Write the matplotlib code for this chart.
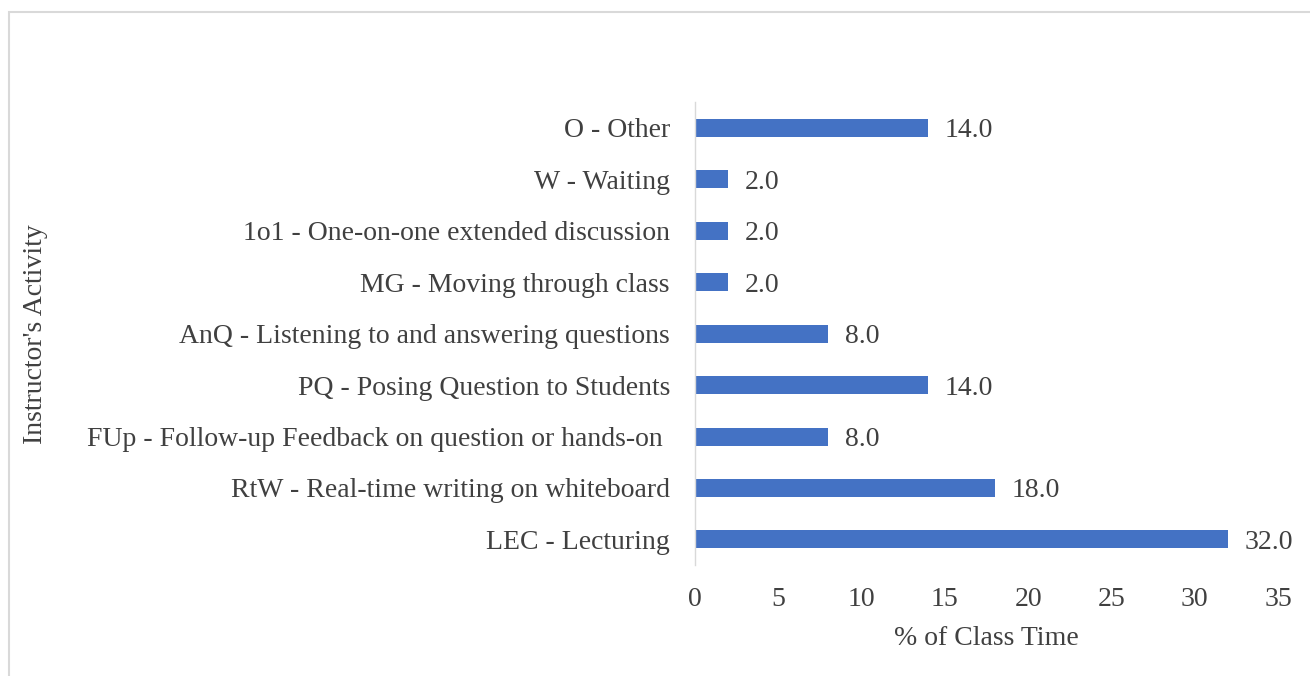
import matplotlib.pyplot as plt
from matplotlib.patches import Rectangle

activities = [
    "LEC - Lecturing",
    "RtW - Real-time writing on whiteboard",
    "FUp - Follow-up Feedback on question or hands-on ",
    "PQ - Posing Question to Students",
    "AnQ - Listening to and answering questions",
    "MG - Moving through class",
    "1o1 - One-on-one extended discussion",
    "W - Waiting",
    "O - Other",
]
pct_time = [32.0, 18.0, 8.0, 14.0, 8.0, 2.0, 2.0, 2.0, 14.0]
xticks = [0, 5, 10, 15, 20, 25, 30, 35]

plt.rcParams['font.family'] = ['Liberation Serif', 'DejaVu Serif']
txt = '#404040'
fs = 20

fig = plt.figure(figsize=(13.1, 6.76), dpi=100)
ax = fig.add_axes([0.5305, 0.164, 0.4451, 0.685])

pos = list(range(len(activities)))
ax.barh(pos, pct_time, height=0.35, color='#4472C4')
for y, v in zip(pos, pct_time):
    ax.text(v + 1.0, y, f"{v:.1f}", va='center_baseline', ha='left',
            fontsize=fs, color=txt)

ax.set_xlim(0, 35)
ax.set_ylim(-0.5, len(activities) - 0.5)
ax.set_xticks(xticks)
ax.set_yticks(pos)
ax.set_yticklabels(activities)
ax.tick_params(length=0, labelsize=fs, labelcolor=txt)
ax.tick_params(axis='y', pad=18)
ax.tick_params(axis='x', pad=16)

for s in ['top', 'right', 'bottom']:
    ax.spines[s].set_visible(False)
ax.spines['left'].set_color('#D9D9D9')
ax.spines['left'].set_linewidth(1.0)

ax.set_xlabel("% of Class Time", fontsize=fs, color=txt, labelpad=10)
fig.text(0.027, 0.505, "Instructor's Activity", rotation=90, fontsize=fs,
         color=txt, ha='center', va='center')

# chart frame
fig.patches.append(Rectangle((8.5 / 1310, -0.1), 1.2, 1.1 - 11.5 / 676,
                             transform=fig.transFigure, fill=False,
                             edgecolor='#D9D9D9', linewidth=1.5))

fig.savefig('out.png', dpi=100)
